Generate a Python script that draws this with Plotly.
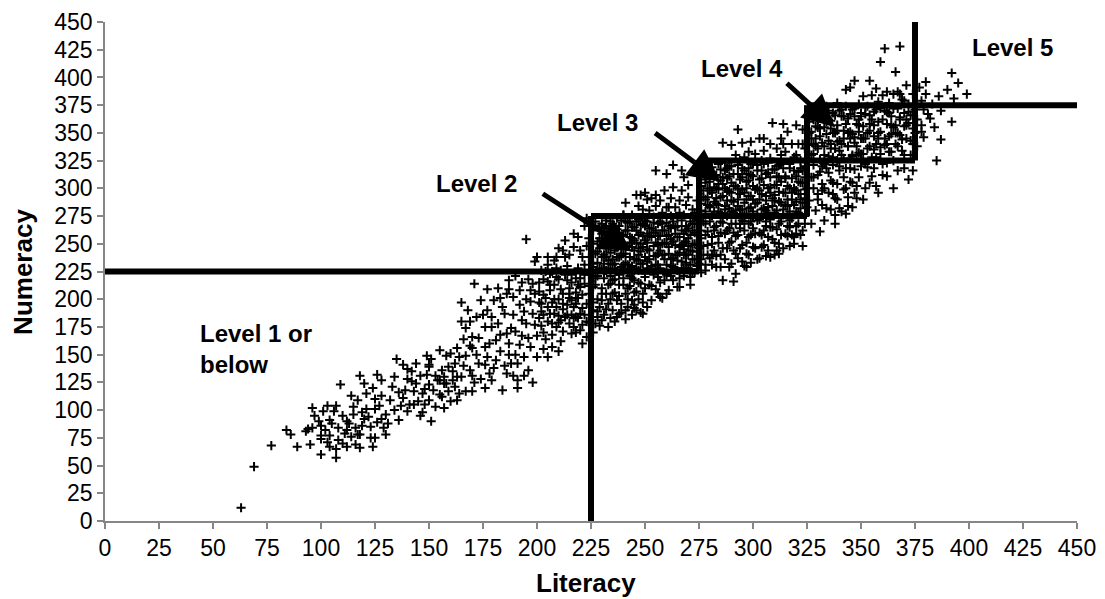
import plotly.graph_objects as go

# Individual test-takers: (literacy score, numeracy score), grouped by literacy band
band_below_130 = [
    (63, 12), (69, 49), (77, 68), (84, 82), (86, 78), (89, 67), (93, 81), (94, 83), (95, 69),
    (96, 102), (97, 95), (96, 84), (100, 60), (100, 86), (100, 74), (100, 77), (101, 99),
    (103, 104), (104, 91), (104, 77), (104, 67), (107, 104), (107, 65), (107, 57), (108, 73),
    (109, 123), (112, 90), (112, 82), (112, 67), (114, 113), (114, 76), (115, 103), (115, 96),
    (116, 69), (117, 78), (118, 131), (118, 66), (118, 78), (120, 124), (120, 92), (121, 115),
    (123, 75), (123, 85), (124, 120), (125, 75), (125, 110), (125, 101), (126, 132), (128, 127),
    (128, 113), (129, 84), (130, 96), (130, 78), (102, 82), (105, 88), (110, 95), (111, 79),
    (113, 88), (119, 86), (121, 101), (122, 94), (126, 89), (127, 104), (99, 90), (106, 99),
    (110, 70), (116, 84), (124, 67), (108, 84), (103, 71), (117, 109), (119, 98), (128, 92),
]
band_130_165 = [
    (132, 109), (134, 100), (135, 146), (136, 116), (136, 91), (138, 141), (138, 111), (140, 128),
    (140, 99), (140, 137), (141, 105), (142, 135), (143, 117), (143, 105), (144, 124), (146, 95),
    (147, 115), (149, 149), (149, 132), (148, 105), (150, 139), (150, 123), (150, 109), (151, 90),
    (153, 131), (155, 154), (155, 127), (155, 114), (156, 136), (157, 130), (157, 102), (158, 149),
    (158, 124), (160, 151), (161, 135), (162, 142), (163, 156), (163, 130), (164, 148), (161, 127),
    (157, 124), (154, 127), (150, 141), (133, 121), (137, 104), (139, 118), (142, 126), (145, 108),
    (146, 131), (148, 119), (152, 118), (153, 103), (156, 112), (159, 117), (160, 108), (162, 121),
    (164, 115), (131, 88), (134, 130), (144, 142), (147, 98), (151, 146), (159, 139), (163, 109),
]
band_165_200 = [
    (165, 197), (165, 180), (165, 130), (166, 164), (167, 174), (167, 149), (167, 117), (169, 180),
    (169, 136), (170, 117), (170, 131), (170, 166), (170, 156), (172, 184), (171, 214), (173, 165),
    (173, 142), (174, 128), (175, 186), (176, 175), (176, 157), (176, 141), (177, 209), (177, 148),
    (178, 133), (179, 184), (179, 175), (179, 127), (180, 199), (181, 163), (183, 201), (183, 153),
    (184, 118), (184, 193), (186, 169), (186, 133), (187, 217), (187, 209), (187, 160), (187, 150),
    (188, 142), (189, 186), (189, 202), (190, 221), (190, 171), (190, 150), (191, 120), (191, 127),
    (191, 142), (192, 208), (192, 159), (193, 181), (193, 167), (193, 215), (194, 189), (194, 131),
    (195, 178), (196, 218), (196, 136), (197, 208), (197, 198), (197, 157), (198, 187), (199, 177),
    (199, 234), (195, 254), (200, 167), (200, 148), (168, 190), (172, 150), (174, 199), (178, 160),
    (181, 145), (182, 178), (185, 187), (185, 140), (188, 174), (192, 195), (194, 148), (196, 165),
    (198, 125), (199, 205), (166, 140), (171, 125), (177, 190), (180, 138), (183, 168), (186, 205),
    (189, 131), (195, 200), (198, 214), (176, 120), (182, 210), (169, 158),
]
band_200_225 = [
    (200, 238), (201, 207), (201, 197), (202, 176), (202, 196), (203, 186), (203, 155), (204, 164),
    (205, 238), (205, 231), (205, 216), (205, 148), (206, 208), (207, 178), (207, 157), (207, 168),
    (207, 197), (208, 235), (208, 187), (209, 238), (210, 246), (210, 153), (210, 218), (210, 200),
    (211, 181), (212, 191), (212, 171), (213, 253), (213, 238), (214, 217), (215, 201), (215, 178),
    (215, 210), (216, 169), (217, 247), (217, 259), (217, 193), (218, 219), (218, 184), (219, 256),
    (219, 201), (220, 172), (220, 211), (221, 238), (221, 192), (221, 160), (221, 177), (223, 166),
    (224, 179), (222, 231), (222, 266), (223, 248), (224, 222), (224, 205), (202, 226), (203, 218),
    (204, 201), (206, 223), (208, 213), (209, 193), (211, 226), (212, 205), (213, 184), (214, 230),
    (216, 222), (216, 186), (218, 206), (219, 228), (220, 244), (222, 214), (223, 196), (224, 255),
    (201, 183), (203, 170), (206, 187), (209, 175), (211, 162), (214, 195), (217, 175), (219, 183),
    (222, 186), (224, 238), (212, 244), (205, 180), (209, 228), (215, 240), (218, 170), (223, 273),
    (216, 199), (220, 219), (210, 185), (207, 225),
]
band_225_250 = [
    (226, 190), (226, 211), (226, 232), (226, 250), (227, 266), (227, 178), (228, 243), (228, 221),
    (228, 200), (229, 228), (229, 193), (229, 176), (230, 253), (230, 268), (230, 238), (230, 210),
    (231, 240), (231, 186), (231, 219), (232, 205), (232, 226), (232, 258), (232, 271), (233, 261),
    (233, 246), (233, 196), (234, 232), (234, 214), (234, 183), (235, 231), (235, 268), (235, 217),
    (235, 190), (236, 244), (236, 254), (236, 206), (237, 199), (237, 263), (237, 238), (237, 225),
    (238, 187), (238, 249), (238, 213), (239, 271), (239, 229), (239, 196), (240, 258), (240, 241),
    (240, 219), (240, 276), (241, 205), (241, 233), (241, 190), (242, 262), (242, 248), (242, 224),
    (243, 270), (243, 212), (243, 238), (244, 199), (244, 255), (244, 230), (245, 244), (245, 217),
    (245, 265), (245, 192), (246, 207), (246, 236), (246, 251), (247, 272), (247, 226), (247, 200),
    (248, 260), (248, 243), (248, 214), (248, 294), (249, 232), (249, 281), (249, 187), (250, 253),
    (250, 220), (250, 266), (229, 255), (231, 264), (233, 235), (234, 248), (236, 227), (238, 260),
    (240, 231), (242, 200), (244, 219), (246, 262), (248, 250), (250, 210), (227, 213), (230, 181),
    (232, 246), (235, 205), (237, 247), (239, 239), (241, 270), (243, 251), (245, 226), (247, 246),
    (249, 268), (226, 170), (228, 184), (233, 175), (236, 180), (239, 188), (241, 182), (244, 186),
    (246, 190), (230, 199), (234, 221), (238, 222), (242, 210), (247, 235), (249, 205), (241, 287),
    (246, 294), (247, 284), (244, 276), (250, 296), (248, 188), (245, 195), (237, 184), (240, 276),
]
band_250_275 = [
    (251, 245), (251, 228), (251, 270), (251, 290), (252, 257), (252, 213), (252, 236), (253, 291),
    (253, 264), (253, 199), (254, 248), (254, 222), (254, 274), (255, 316), (255, 294), (255, 284),
    (255, 239), (255, 209), (256, 257), (256, 231), (256, 268), (257, 289), (257, 244), (257, 215),
    (258, 262), (258, 201), (258, 278), (259, 298), (259, 236), (259, 251), (260, 313), (260, 283),
    (260, 222), (260, 269), (261, 241), (261, 258), (261, 208), (262, 291), (262, 275), (262, 230),
    (263, 321), (263, 301), (263, 252), (263, 217), (264, 265), (264, 283), (264, 240), (265, 226),
    (265, 256), (265, 273), (266, 211), (266, 289), (266, 247), (267, 316), (267, 298), (267, 262),
    (267, 234), (268, 310), (268, 276), (268, 251), (268, 221), (269, 285), (269, 240), (269, 266),
    (270, 303), (270, 292), (270, 255), (270, 228), (271, 244), (271, 270), (271, 213), (272, 262),
    (272, 281), (272, 236), (273, 250), (273, 224), (273, 268), (274, 289), (274, 243), (274, 258),
    (275, 232), (275, 271), (252, 280), (254, 260), (256, 220), (258, 240), (260, 250), (262, 264),
    (264, 228), (266, 278), (268, 240), (270, 264), (272, 250), (274, 230), (253, 230), (257, 270),
    (261, 283), (265, 240), (269, 252), (273, 278), (251, 259), (255, 251), (259, 224), (263, 237),
    (267, 249), (271, 225), (275, 246), (251, 193), (257, 202), (260, 205), (265, 211), (271, 220),
]
band_275_300 = [
    (276, 224), (276, 280), (276, 302), (276, 255), (277, 240), (277, 292), (277, 316), (278, 268),
    (278, 231), (278, 308), (279, 249), (279, 285), (279, 261), (280, 298), (280, 237), (280, 318),
    (281, 275), (281, 256), (282, 311), (282, 244), (282, 288), (283, 229), (283, 300), (283, 266),
    (284, 279), (284, 322), (284, 251), (285, 292), (285, 240), (285, 307), (286, 341), (286, 269),
    (286, 217), (287, 284), (287, 259), (287, 316), (288, 298), (288, 246), (288, 275), (289, 229),
    (289, 311), (289, 264), (290, 339), (290, 289), (290, 252), (290, 320), (291, 216), (291, 278),
    (291, 302), (292, 268), (292, 241), (292, 223), (293, 353), (293, 313), (293, 290), (293, 258),
    (294, 281), (294, 246), (294, 325), (295, 341), (295, 299), (295, 271), (295, 234), (296, 262),
    (296, 287), (296, 316), (297, 229), (297, 306), (297, 251), (297, 277), (298, 333), (298, 293),
    (298, 240), (298, 268), (299, 342), (299, 283), (299, 258), (299, 312), (300, 247), (300, 302),
    (300, 274), (300, 322), (277, 270), (279, 300), (281, 240), (283, 286), (285, 260), (287, 300),
    (289, 282), (291, 260), (293, 300), (295, 310), (297, 290), (299, 270), (278, 290), (282, 262),
    (286, 310), (290, 305), (294, 268), (298, 318), (280, 284), (284, 304), (288, 318), (292, 330),
    (296, 328), (300, 290),
]
band_300_325 = [
    (301, 331), (301, 259), (302, 287), (302, 316), (302, 236), (303, 272), (303, 298), (303, 345),
    (304, 309), (304, 247), (304, 281), (305, 334), (305, 262), (305, 322), (306, 293), (306, 239),
    (306, 270), (307, 314), (307, 283), (307, 256), (308, 340), (308, 301), (308, 238), (308, 327),
    (309, 359), (309, 265), (309, 291), (310, 251), (310, 317), (310, 278), (311, 336), (311, 244),
    (311, 303), (312, 268), (312, 288), (312, 241), (313, 345), (313, 322), (313, 258), (314, 358),
    (314, 296), (314, 276), (315, 309), (315, 259), (315, 333), (316, 284), (316, 266), (316, 351),
    (317, 318), (317, 300), (317, 248), (318, 340), (318, 273), (318, 290), (319, 328), (319, 256),
    (320, 311), (320, 279), (320, 357), (320, 259), (321, 295), (321, 340), (321, 268), (322, 325),
    (322, 282), (322, 305), (323, 353), (323, 262), (323, 316), (324, 291), (324, 275), (324, 336),
    (325, 300), (325, 283), (302, 300), (304, 325), (306, 280), (308, 265), (310, 294), (312, 310),
    (314, 340), (316, 275), (318, 258), (320, 330), (322, 290), (324, 310), (303, 260), (307, 300),
    (311, 320), (315, 285), (319, 300), (323, 340), (305, 345), (313, 330), (317, 265), (321, 315),
]
band_325_350 = [
    (326, 331), (326, 350), (326, 372), (326, 289), (327, 310), (327, 345), (327, 268), (328, 362),
    (328, 300), (328, 321), (329, 338), (329, 280), (329, 356), (330, 371), (330, 312), (330, 295),
    (331, 261), (331, 347), (331, 326), (332, 365), (332, 304), (332, 285), (333, 338), (333, 355),
    (333, 271), (334, 318), (334, 374), (335, 296), (335, 343), (335, 329), (336, 361), (336, 281),
    (336, 307), (337, 350), (337, 368), (337, 321), (338, 268), (338, 291), (338, 336), (339, 357),
    (339, 304), (339, 377), (340, 316), (340, 343), (340, 282), (341, 365), (341, 330), (341, 279),
    (342, 299), (342, 352), (343, 389), (343, 374), (343, 318), (344, 338), (344, 292), (344, 363),
    (345, 391), (345, 327), (345, 306), (346, 349), (346, 371), (346, 283), (347, 397), (347, 317),
    (347, 341), (348, 358), (348, 291), (348, 302), (349, 376), (349, 332), (349, 351), (350, 368),
    (350, 320), (327, 330), (330, 355), (333, 300), (336, 340), (339, 325), (342, 365), (345, 345),
    (348, 330), (350, 345), (331, 315), (334, 360), (337, 295), (340, 370), (343, 300), (346, 330),
    (349, 362), (328, 340), (332, 320), (335, 370), (338, 350), (341, 340), (344, 350), (347, 365),
]
band_350_375 = [
    (351, 356), (351, 383), (351, 331), (352, 345), (352, 367), (352, 300), (353, 374), (353, 319),
    (354, 397), (354, 338), (354, 358), (355, 384), (355, 311), (356, 347), (356, 369), (357, 390),
    (357, 328), (357, 302), (358, 360), (358, 378), (359, 414), (359, 337), (359, 351), (360, 384),
    (360, 322), (361, 426), (361, 370), (361, 345), (362, 387), (362, 311), (362, 358), (363, 377),
    (363, 333), (364, 349), (364, 365), (365, 385), (365, 325), (366, 405), (366, 357), (366, 340),
    (367, 387), (367, 372), (368, 428), (368, 348), (368, 362), (369, 380), (369, 334), (370, 356),
    (370, 368), (371, 393), (371, 345), (372, 376), (372, 359), (373, 330), (373, 366), (374, 316),
    (374, 385), (375, 350), (375, 371), (353, 350), (356, 335), (359, 372), (362, 340), (365, 355),
    (368, 385), (371, 362), (374, 340), (355, 362), (358, 345), (363, 368), (367, 350), (370, 379),
]
band_above_375 = [
    (376, 362), (377, 391), (378, 379), (378, 357), (378, 351), (379, 371), (380, 385), (380, 396),
    (381, 367), (382, 363), (384, 355), (385, 325), (386, 383), (387, 370), (387, 344), (390, 389),
    (392, 404), (392, 360), (393, 381), (395, 395), (399, 385), (383, 376), (376, 338), (379, 346),
]

# Additional respondents in the densest part of the distribution
core_lower = [
    (201, 215), (202, 189), (203, 204), (204, 225), (205, 193), (206, 213), (208, 200), (209, 220),
    (210, 179), (211, 209), (212, 196), (213, 222), (214, 186), (215, 205), (216, 215), (217, 183),
    (218, 196), (219, 213), (220, 187), (221, 204), (222, 222), (223, 180), (224, 212), (226, 197),
    (227, 219), (228, 189), (230, 205), (231, 224), (232, 191), (233, 213), (234, 200), (236, 218),
    (238, 203), (240, 213), (242, 193), (243, 221), (245, 206), (247, 215), (249, 197), (250, 223),
    (253, 212), (256, 205), (259, 217), (262, 221), (266, 219), (268, 228), (272, 224),
]
core_level2 = [
    (226, 229), (226, 262), (227, 241), (227, 270), (228, 252), (228, 233), (229, 265), (229, 246),
    (230, 227), (230, 259), (231, 249), (231, 232), (232, 238), (232, 266), (233, 228), (233, 252),
    (234, 242), (234, 270), (235, 257), (235, 236), (236, 264), (236, 232), (237, 251), (237, 273),
    (238, 238), (238, 266), (239, 246), (239, 257), (240, 227), (240, 250), (241, 262), (241, 241),
    (242, 231), (242, 269), (243, 256), (243, 228), (244, 247), (244, 265), (245, 236), (245, 253),
    (246, 228), (246, 270), (247, 258), (247, 240), (248, 232), (248, 267), (249, 247), (249, 257),
    (250, 238), (250, 271), (251, 251), (251, 234), (252, 264), (252, 244), (253, 228), (253, 256),
    (254, 269), (254, 239), (255, 262), (255, 231), (256, 249), (256, 241), (257, 257), (257, 228),
    (258, 268), (258, 250), (259, 240), (259, 262), (260, 231), (260, 257), (261, 266), (261, 247),
    (262, 236), (262, 254), (263, 270), (263, 229), (264, 249), (264, 259), (265, 235), (265, 266),
    (266, 242), (266, 256), (267, 228), (267, 271), (268, 259), (268, 245), (269, 233), (269, 262),
    (270, 248), (270, 240), (271, 258), (271, 231), (272, 268), (272, 243), (273, 236), (273, 260),
    (274, 249), (274, 272),
]
core_mid = [
    (276, 236), (276, 262), (277, 248), (278, 226), (278, 258), (279, 240), (280, 270), (281, 231),
    (281, 250), (282, 265), (283, 239), (284, 257), (285, 229), (285, 270), (286, 246), (287, 236),
    (288, 262), (289, 251), (290, 232), (290, 268), (291, 244), (292, 257), (293, 237), (294, 264),
    (295, 249), (296, 230), (296, 270), (297, 241), (298, 256), (299, 233), (300, 264), (301, 246),
    (302, 271), (303, 237), (304, 258), (305, 249), (306, 266), (307, 244), (308, 272), (309, 254),
    (310, 240), (311, 263), (312, 250), (313, 270), (314, 246), (316, 257), (317, 271), (319, 250),
    (320, 266), (322, 258), (323, 248), (324, 268),
]
core_level3 = [
    (276, 286), (276, 311), (277, 298), (277, 322), (278, 279), (278, 305), (279, 292), (279, 315),
    (280, 283), (280, 306), (281, 296), (281, 319), (282, 279), (282, 301), (283, 312), (283, 291),
    (284, 285), (284, 299), (285, 317), (285, 278), (286, 293), (286, 304), (287, 281), (287, 323),
    (288, 289), (288, 309), (289, 297), (289, 320), (290, 279), (290, 296), (291, 288), (291, 313),
    (292, 302), (292, 280), (293, 321), (293, 284), (294, 295), (294, 308), (295, 281), (295, 318),
    (296, 296), (296, 276), (297, 313), (297, 300), (298, 282), (298, 307), (299, 322), (299, 293),
    (300, 279), (300, 311), (301, 299), (301, 286), (302, 321), (302, 277), (303, 308), (303, 290),
    (304, 295), (304, 316), (305, 282), (305, 303), (306, 313), (306, 289), (307, 323), (307, 278),
    (308, 296), (308, 310), (309, 284), (309, 317), (310, 303), (310, 289), (311, 280), (311, 311),
    (312, 297), (312, 321), (313, 287), (313, 306), (314, 281), (314, 318), (315, 296), (315, 311),
    (316, 302), (316, 290), (317, 279), (317, 322), (318, 309), (318, 296), (319, 285), (319, 316),
    (320, 298), (320, 288), (321, 306), (321, 278), (322, 318), (322, 295), (323, 287), (323, 305),
    (324, 299), (324, 320),
]
core_level4 = [
    (326, 339), (326, 360), (327, 351), (328, 331), (328, 370), (329, 345), (330, 362), (330, 336),
    (331, 354), (332, 341), (332, 372), (333, 330), (334, 349), (335, 362), (336, 336), (336, 354),
    (337, 328), (338, 366), (339, 342), (339, 352), (340, 334), (341, 371), (342, 345), (342, 327),
    (343, 358), (344, 338), (345, 367), (345, 351), (346, 329), (347, 346), (347, 372), (348, 338),
    (349, 357), (350, 331), (350, 365), (351, 345), (352, 373), (353, 336), (354, 352), (354, 366),
    (355, 328), (356, 357), (357, 340), (357, 371), (358, 350), (359, 331), (360, 362), (361, 339),
    (362, 369), (363, 347), (364, 357), (364, 333), (365, 372), (366, 350), (367, 338), (368, 364),
    (369, 344), (370, 330), (371, 357), (372, 369), (373, 343), (374, 354), (328, 310), (330, 290),
    (332, 298), (334, 282), (335, 314), (337, 305), (339, 290), (340, 320), (342, 310), (344, 284),
    (345, 318), (347, 296), (349, 310), (351, 290), (352, 322), (354, 305), (356, 318), (358, 296),
    (360, 312), (362, 323), (365, 300), (367, 316), (370, 318), (372, 308), (346, 305), (333, 322),
    (338, 276), (343, 277),
]

# Proficiency level cut scores and axis ticks
cut_scores = [225, 275, 325, 375]
axis_ticks = list(range(0, 451, 25))

# Level labels: (text, literacy, numeracy, anchor)
level_labels = [
    ("Level 1 or<br>below", 43, 155, "left"),
    ("Level 2", 172, 304, "center"),
    ("Level 3", 228, 359, "center"),
    ("Level 4", 295, 408, "center"),
    ("Level 5", 420, 427, "center"),
]
# Arrows: (tail literacy, tail numeracy, head literacy, head numeracy)
level_arrows = [
    (202, 296, 244, 243),
    (254, 351, 285, 306),
    (315, 396, 338, 355),
]

groups = [band_below_130, band_130_165, band_165_200, band_200_225, band_225_250,
          band_250_275, band_275_300, band_300_325, band_325_350, band_350_375, band_above_375,
          core_lower, core_level2, core_mid, core_level3, core_level4]
literacy = [p[0] for g in groups for p in g]
numeracy = [p[1] for g in groups for p in g]

FONT = "Arial, Liberation Sans, sans-serif"

fig = go.Figure()
fig.add_trace(go.Scatter(
    x=literacy, y=numeracy, mode="markers",
    marker=dict(symbol="cross-thin", size=6.5, color="black",
                line=dict(width=2, color="black")),
    showlegend=False, hoverinfo="x+y",
))

line_style = dict(color="black", width=6)
c1, c2, c3, c4 = cut_scores
segments = [
    # outer boundaries
    (0, c1, c2, c1), (c1, 0, c1, c2),
    (c3, c4, 454, c4), (c4, c3, c4, 452),
    # Level 2 box
    (c1, c2, c2, c2), (c2, c1, c2, c3),
    # Level 3 box
    (c2, c3, c3, c3), (c3, c2, c3, c4),
    # Level 4 box
    (c2, c2, c3, c2), (c3, c3, c4, c3),
]
for x0, y0, x1, y1 in segments:
    fig.add_shape(type="line", x0=x0, y0=y0, x1=x1, y1=y1, xref="x", yref="y",
                  line=line_style, layer="above")

label_font = dict(family=FONT, size=24, color="black")
for text, lx, ly, anchor in level_labels:
    fig.add_annotation(x=lx, y=ly, text=f"<b>{text}</b>", showarrow=False,
                       xanchor=anchor, yanchor="middle", align="left", font=label_font)

for tx, ty, hx, hy in level_arrows:
    fig.add_annotation(x=hx, y=hy, ax=tx, ay=ty, xref="x", yref="y", axref="x", ayref="y",
                       text="", showarrow=True, arrowhead=2, arrowsize=1.3,
                       arrowwidth=5, arrowcolor="black")

# Axis titles placed explicitly so the plotting area keeps its size
title_font = dict(family=FONT, size=26, color="black")
fig.add_annotation(x=-0.085, y=0.5, xref="paper", yref="paper", text="<b>Numeracy</b>",
                   textangle=-90, showarrow=False, xanchor="center", yanchor="middle",
                   font=title_font)
fig.add_annotation(x=0.495, y=-0.124, xref="paper", yref="paper", text="<b>Literacy</b>",
                   showarrow=False, xanchor="center", yanchor="middle", font=title_font)

axis_common = dict(
    range=[0, 450], tickvals=axis_ticks, showgrid=False, zeroline=False,
    showline=True, linecolor="#868686", linewidth=1.5,
    ticks="outside", ticklen=6, tickcolor="#868686", tickwidth=1.5, automargin=False,
    tickfont=dict(family=FONT, size=23, color="black"),
)
fig.update_xaxes(**axis_common)
fig.update_yaxes(**axis_common)

fig.update_layout(
    width=1105, height=599,
    margin=dict(l=105, r=28, t=22, b=78),
    plot_bgcolor="white", paper_bgcolor="white",
)

fig.write_html("out.html")
